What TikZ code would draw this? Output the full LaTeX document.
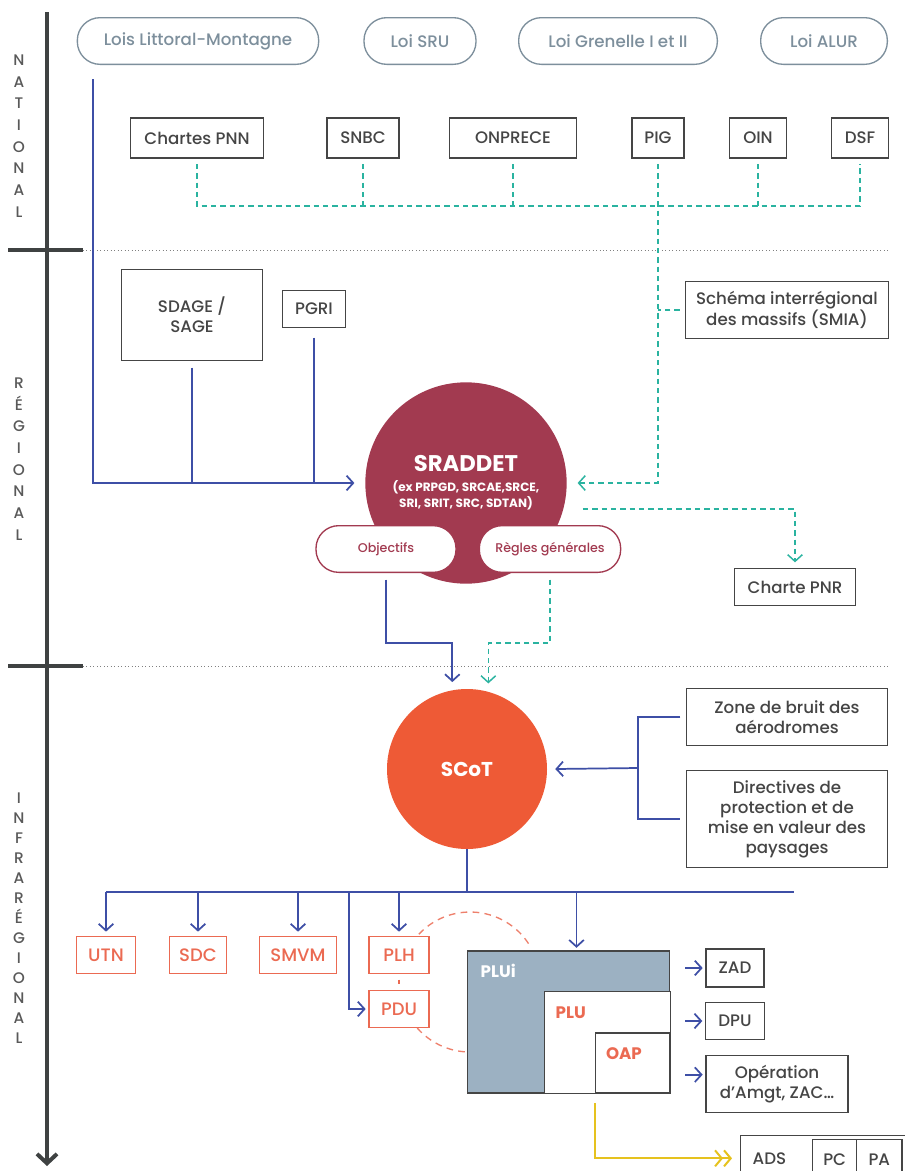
\documentclass[tikz,border=0pt]{standalone}
\usepackage{fontspec}
\setmainfont{Poppins}[UprightFont={* Medium}, BoldFont={* Bold}]
\usetikzlibrary{calc,positioning,arrows.meta}
\definecolor{axisgray}{HTML}{3F4242}
\definecolor{lawgray}{HTML}{7D8F9C}
\definecolor{boxgray}{HTML}{454545}
\definecolor{planblue}{HTML}{3E4FA6}
\definecolor{dashteal}{HTML}{2AB3A0}
\definecolor{sradred}{HTML}{A23A50}
\definecolor{scotorange}{HTML}{EE5A36}
\definecolor{localred}{HTML}{EB6A52}
\definecolor{pluiblue}{HTML}{9CB1C2}
\definecolor{adsyellow}{HTML}{E6C21E}

\tikzset{
  lawpill/.style={draw=lawgray, line width=1pt, rounded corners=17pt,
    minimum height=35pt, text=lawgray, font=\fontsize{12.5}{15}\selectfont},
  natbox/.style={draw=boxgray, line width=1pt, minimum height=30pt,
    text=boxgray, font=\fontsize{12.5}{15}\selectfont},
  rulepill/.style={draw=sradred, fill=white, line width=1pt, rounded corners=17pt,
    minimum height=35pt, text=sradred, font=\fontsize{9.5}{11}\selectfont},
  localbox/.style={draw=localred, line width=1pt, minimum height=28pt,
    text=localred, font=\fontsize{13.5}{15}\selectfont},
  planbox/.style={draw=boxgray, line width=0.8pt},
  planlabel/.style={anchor=north west, font=\fontsize{12.5}{15}\selectfont\bfseries},
  axislabel/.style={align=center, text=gray!70!black, inner sep=0pt},
  blueline/.style={draw=planblue, line width=1.3pt},
  tealdash/.style={draw=dashteal, line width=1.1pt, dash pattern=on 4pt off 3pt},
  reddash/.style={draw=localred!85, line width=1pt, dash pattern=on 5pt off 4pt},
  tobarb/.style={-{Straight Barb[length=5pt,width=11pt]}}
}

\begin{document}
\begin{tikzpicture}[x=0.75pt,y=-0.75pt]
  \clip (0,0) rectangle (905,1171);
  \fill[white] (0,0) rectangle (905,1171);

  \draw[line width=3pt, axisgray, -{Straight Barb[length=7pt,width=15pt]}] (47,12) -- (47,1166);
  \draw[line width=3pt, axisgray] (8,250) -- (83,250) (8,666) -- (83,666);
  \draw[dotted, gray, line width=0.6pt] (83,250) -- (888,250) (83,666) -- (888,666);

  \node[axislabel, font=\fontsize{11.5}{16.3}\selectfont] (lnational) at (19,136) {N\\A\\T\\I\\O\\N\\A\\L};
  \node[axislabel, font=\fontsize{11.5}{16.3}\selectfont] (lregional) at (19,459) {R\\É\\G\\I\\O\\N\\A\\L};
  \node[axislabel, font=\fontsize{11.5}{15}\selectfont] (linfra) at (19,918) {I\\N\\F\\R\\A\\R\\É\\G\\I\\O\\N\\A\\L};

  \node[lawpill, minimum width=181pt] (littoral) at (198,41) {Lois Littoral-Montagne};
  \node[lawpill, minimum width=84pt] (sru) at (420,41) {Loi SRU};
  \node[lawpill, minimum width=149pt] (grenelle) at (618,41) {Loi Grenelle I et II};
  \node[lawpill, minimum width=95pt] (alur) at (824,41) {Loi ALUR};

  \node[natbox, minimum width=100pt] (chartes) at (197,138) {Chartes PNN};
  \node[natbox, minimum width=54pt] (snbc) at (363,138) {SNBC};
  \node[natbox, minimum width=95pt] (onprece) at (513,138) {ONPRECE};
  \node[natbox, minimum width=39pt] (pig) at (658,138) {PIG};
  \node[natbox, minimum width=43pt] (oin) at (758,138) {OIN};
  \node[natbox, minimum width=43pt] (dsf) at (860,138) {DSF};

  \node[natbox, minimum width=106pt, minimum height=68pt, align=center] (sdage) at (192,315) {SDAGE /\\SAGE};
  \node[natbox, minimum width=47pt, minimum height=28pt] (pgri) at (314,309) {PGRI};
  \node[natbox, minimum width=152pt, minimum height=43pt, align=center] (smia) at (787,310) {Schéma interrégional\\des massifs (SMIA)};

  \node[circle, fill=sradred, minimum size=151pt, text=white, align=center, inner sep=0pt] (sraddet) at (466,483)
    {{\fontsize{17}{20}\selectfont\bfseries SRADDET}\\[3pt]
     {\fontsize{9}{10.5}\selectfont\bfseries (ex PRPGD, SRCAE,SRCE,}\\
     {\fontsize{9}{10.5}\selectfont\bfseries SRI, SRIT, SRC, SDTAN)}};
  \node[rulepill, minimum width=105pt] (objectifs) at (386,549) {Objectifs};
  \node[rulepill, minimum width=106pt] (regles) at (550,549) {Règles générales};
  \node[natbox, minimum width=91pt, minimum height=28pt] (pnr) at (795,587) {Charte PNR};

  \node[circle, fill=scotorange, minimum size=120pt, text=white,
    font=\fontsize{15}{17}\selectfont\bfseries] (scot) at (467,769) {SCoT};
  \node[natbox, minimum width=151pt, minimum height=43pt, align=center] (bruit) at (787,717) {Zone de bruit des\\aérodromes};
  \node[natbox, minimum width=151pt, minimum height=73pt, align=center] (paysages) at (787,819)
    {Directives de\\protection et de\\mise en valeur des\\paysages};

  \node[localbox, minimum width=44pt] (utn) at (106,955) {UTN};
  \node[localbox, minimum width=43pt] (sdc) at (198,955) {SDC};
  \node[localbox, minimum width=58pt] (smvm) at (298,955) {SMVM};
  \node[localbox, minimum width=45pt] (plh) at (399,955) {PLH};
  \node[localbox, minimum width=45pt] (pdu) at (399,1009) {PDU};

  \coordinate (pluring) at (470,982);
  \draw[reddash] (pluring) ++(223:70) arc[start angle=223, end angle=327, radius=70];
  \draw[reddash] (pluring) ++(139:70) arc[start angle=139, end angle=93, radius=70];
  \draw[localred, line width=1pt] ([yshift=-4pt]plh.south) -- ([yshift=4pt]pdu.north);

  \node[planbox, fill=pluiblue, minimum width=152pt, minimum height=106.5pt,
    label={[planlabel, text=white, xshift=7pt, yshift=-7pt]north west:PLUi}] (plui) at (568.5,1022) {};
  \node[planbox, fill=white, minimum width=94pt, minimum height=76pt,
    label={[planlabel, text=localred, xshift=5pt, yshift=-8pt]north west:PLU}] (plu) at (607.5,1042.5) {};
  \node[planbox, fill=white, minimum width=56pt, minimum height=45pt,
    label={[planlabel, text=localred, xshift=5pt, yshift=-8pt]north west:OAP}] (oap) at (632.5,1063) {};

  \node[natbox, minimum width=43.5pt, minimum height=28.5pt] (zad) at (735,968) {ZAD};
  \node[natbox, minimum width=44pt, minimum height=28pt] (dpu) at (735,1021) {DPU};
  \node[natbox, minimum width=106.5pt, minimum height=43pt, align=center] (operation) at (777,1084) {Opération\\d’Amgt, ZAC…};

  \node[natbox, anchor=north west, minimum width=131pt, minimum height=34pt,
    text width=113pt, align=left] (ads) at (740,1135) {ADS};
  \node[natbox, anchor=north west, minimum width=33pt, minimum height=30pt] (pc) at (812,1139) {PC};
  \node[natbox, anchor=north west, minimum width=34pt, minimum height=30pt] (pa) at (856,1139) {PA};

  \coordinate (natbus) at (0,206);
  \draw[tealdash] ([yshift=-4pt]chartes.south) -- (chartes.south |- natbus) -- (dsf.south |- natbus) -- ([yshift=-4pt]dsf.south);
  \foreach \n in {snbc,onprece,oin}
    \draw[tealdash] ([yshift=-4pt]\n.south) -- (\n.south |- natbus);
  \draw[tealdash, tobarb] ([yshift=-4pt]pig.south) |- ([xshift=8pt]sraddet.east);
  \draw[tealdash] ([xshift=-4pt]smia.west) -- (pig.south |- smia.west);
  \draw[tealdash, tobarb] ([xshift=12pt,yshift=-19.5pt]sraddet.east) -| ([yshift=4pt]pnr.north);

  \draw[blueline, tobarb] ($(littoral.south west)+(16,14)$) |- ([xshift=-8pt]sraddet.west);
  \draw[blueline] ([yshift=-5pt]sdage.south) -- (sdage.south |- sraddet.west);
  \draw[blueline] ([yshift=-7pt]pgri.south) -- (pgri.south |- sraddet.west);

  \coordinate (rgbend) at (0,643);
  \draw[blueline, tobarb] ([yshift=-5pt]objectifs.south) -- (objectifs.south |- rgbend) -| ([xshift=-11pt,yshift=5pt]scot.north);
  \draw[tealdash, tobarb] ([yshift=-5pt]regles.south) -- (regles.south |- rgbend) -| ([xshift=16pt,yshift=4pt]scot.north);

  \coordinate (brk) at (638,768);
  \draw[blueline] ([xshift=-4pt]bruit.west) -| (brk) |- ([xshift=-4pt]paysages.west);
  \draw[blueline, tobarb] (brk) -- ([xshift=6pt]scot.east);

  \coordinate (busL) at (106,892);
  \coordinate (busR) at (794,892);
  \coordinate (pdubranch) at (349,892);
  \coordinate (pluiin) at ([xshift=6pt]plui.north);
  \draw[blueline] (scot.south) -- (scot.south |- busL);
  \draw[blueline] (busL) -- (busR);
  \foreach \n in {utn,sdc,smvm,plh}
    \draw[blueline, tobarb] (\n.north |- busL) -- ([yshift=3pt]\n.north);
  \draw[blueline, tobarb] (pdubranch) |- ([xshift=-2pt]pdu.west);
  \draw[blueline, tobarb] (pluiin |- busL) -- ([yshift=2pt]pluiin);

  \draw[blueline, tobarb] ([xshift=-15pt]zad.west) -- ([xshift=-2pt]zad.west);
  \draw[blueline, tobarb] ([xshift=-15pt]dpu.west) -- ([xshift=-2pt]dpu.west);
  \draw[blueline, tobarb] ([xshift=-15pt,yshift=7pt]operation.west) -- ([xshift=-2pt,yshift=7pt]operation.west);

  \draw[adsyellow, line width=1.5pt, -{Straight Barb[length=5pt,width=12pt] Straight Barb[length=5pt,width=12pt]}]
    ([yshift=-7pt]oap.south west) |- ([xshift=-6pt]ads.west);
\end{tikzpicture}
\end{document}
